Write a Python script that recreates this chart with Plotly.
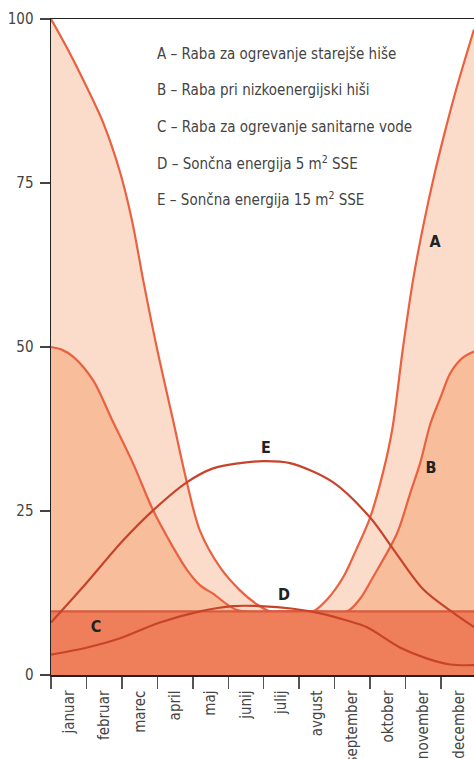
import plotly.graph_objects as go

months = ["januar", "februar", "marec", "april", "maj", "junij", "julij",
          "avgust", "september", "oktober", "november", "december"]
month_centers = [i + 0.5 for i in range(12)]
month_edges = list(range(12))

# A - Raba za ogrevanje starejše hiše
a_x = [0, 0.45, 0.9, 1.47, 1.95, 2.28, 2.6, 3.0, 3.44, 3.84, 4.2, 4.77, 5.33,
       5.8, 6.18, 6.8, 7.39, 7.8, 8.24, 8.6, 9.0, 9.37, 9.62, 9.93, 10.21,
       10.5, 10.8, 11.1, 11.45, 11.93]
a_y = [100, 95.6, 90.8, 84.2, 76.6, 69.4, 60.2, 49.5, 38.9, 29.2, 22, 16.4,
       12.9, 10.8, 9.7, 9.7, 9.7, 11.6, 14.9, 19, 24, 31, 37.3, 50, 60.2,
       68.5, 76.0, 82.6, 89.7, 98.4]
# B - Raba pri nizkoenergijski hiši
b_x = [0, 0.3, 0.63, 1.19, 1.72, 2.31, 2.88, 3.44, 3.84, 4.2, 4.57, 5.25, 6.5,
       7.5, 8.35, 8.7, 9.08, 9.76, 10.13, 10.41, 10.7, 11.0, 11.26, 11.6, 11.93]
b_y = [50, 49.6, 48.5, 44.9, 38.9, 32.3, 25.1, 19.5, 16.0, 13.7, 12.4, 9.9, 9.7,
       9.7, 9.7, 11.5, 14.9, 21.6, 27.7, 32.3, 38.3, 42.5, 46, 48.3, 49.3]
# C - Raba za ogrevanje sanitarne vode
c_x = [0, 11.93]
c_y = [9.7, 9.7]
# D - Sončna energija 5 m2 SSE
d_x = [0, 1.02, 1.95, 3.07, 4.2, 5.13, 5.9, 6.83, 7.59, 8.35, 8.9, 9.84, 10.61,
       11.26, 11.93]
d_y = [3.1, 4.2, 5.6, 8.0, 9.7, 10.5, 10.5, 10.1, 9.4, 8.3, 7.3, 4.2, 2.5, 1.6, 1.5]
# E - Sončna energija 15 m2 SSE
e_x = [0, 0.9, 2.03, 2.88, 3.84, 4.57, 5.33, 5.98, 6.74, 7.95, 9.0, 9.65, 10.49,
       11.26, 11.93]
e_y = [8.0, 13.4, 20.5, 25.1, 29.4, 31.5, 32.3, 32.6, 32.3, 29.4, 24, 19.2, 13.1,
       9.8, 7.3]

legend_lines = [
    "A – Raba za ogrevanje starejše hiše",
    "B – Raba pri nizkoenergijski hiši",
    "C – Raba za ogrevanje sanitarne vode",
    "D – Sončna energija 5 m<sup>2</sup> SSE",
    "E – Sončna energija 15 m<sup>2</sup> SSE",
]
curve_labels = ["<b>A</b>", "<b>B</b>", "<b>C</b>", "<b>D</b>", "<b>E</b>"]
label_x = [10.83, 10.72, 1.27, 6.57, 6.06]
label_y = [65.9, 31.4, 7.2, 12.0, 34.4]

FONT = "DejaVu Sans Condensed, Liberation Sans Narrow, sans-serif"
LIGHT = "#fbdccb"
MED = "#f8bd9b"
DARK = "#ef7f5b"
LINE_AB = "#ea6140"
LINE_C = "#d65b3f"
LINE_DE = "#c8432b"

fig = go.Figure()
spline = dict(shape="spline", smoothing=0.9)
fig.add_trace(go.Scatter(x=a_x, y=a_y, mode="lines", fill="tozeroy", fillcolor=LIGHT,
                         line=dict(color=LINE_AB, width=2.2, **spline),
                         hoverinfo="skip"))
fig.add_trace(go.Scatter(x=b_x, y=b_y, mode="lines", fill="tozeroy", fillcolor=MED,
                         line=dict(color=LINE_AB, width=2.2, **spline),
                         hoverinfo="skip"))
fig.add_trace(go.Scatter(x=c_x, y=c_y, mode="lines", fill="tozeroy", fillcolor=DARK,
                         line=dict(color=LINE_C, width=2.2), hoverinfo="skip"))
fig.add_trace(go.Scatter(x=d_x, y=d_y, mode="lines",
                         line=dict(color=LINE_DE, width=2.2, **spline),
                         hoverinfo="skip"))
fig.add_trace(go.Scatter(x=e_x, y=e_y, mode="lines",
                         line=dict(color=LINE_DE, width=2.2, **spline),
                         hoverinfo="skip"))

fig.add_trace(go.Scatter(x=label_x, y=label_y, mode="text", text=curve_labels,
                         textfont=dict(family=FONT, size=16, color="#222222"),
                         hoverinfo="skip"))

ann = []
for i, t in enumerate(legend_lines):
    ann.append(dict(x=(155 - 51) / 423, y=1 - (54 + 36.3 * i - 19) / 656,
                    xref="x domain", yref="y domain", text=t, showarrow=False,
                    xanchor="left", yanchor="middle",
                    font=dict(family=FONT, size=15, color="#444444")))

fig.update_layout(
    width=474, height=759,
    margin=dict(l=51, r=0, t=19, b=84, autoexpand=False),
    paper_bgcolor="white", plot_bgcolor="white",
    showlegend=False,
    annotations=ann,
    font=dict(family=FONT, color="#444444"),
    xaxis=dict(range=[0, 11.93], tickvals=month_centers, ticktext=months,
               tickangle=-90, ticks="", showgrid=False, zeroline=False,
               showline=True, linecolor="#222222", linewidth=1.5, mirror=True,
               tickfont=dict(family=FONT, size=15, color="#444444"),
               ticklabelstandoff=8, automargin=False,
               minor=dict(tickvals=month_edges, ticks="outside", ticklen=12,
                          tickcolor="#555555", tickwidth=1.5, showgrid=False)),
    yaxis=dict(range=[0, 100], tickvals=[0, 25, 50, 75, 100], ticks="outside",
               ticklen=10, tickcolor="#444444", tickwidth=1.5, showgrid=False,
               zeroline=False, showline=True, linecolor="#222222", linewidth=1.5,
               tickfont=dict(family=FONT, size=15, color="#444444"),
               ticklabelstandoff=3, automargin=False),
)

fig.write_html("out.html",
               config={"displayModeBar": False, "staticPlot": True},
               post_script="document.body.style.margin='0px';"
                           "document.body.style.overflow='hidden';")
